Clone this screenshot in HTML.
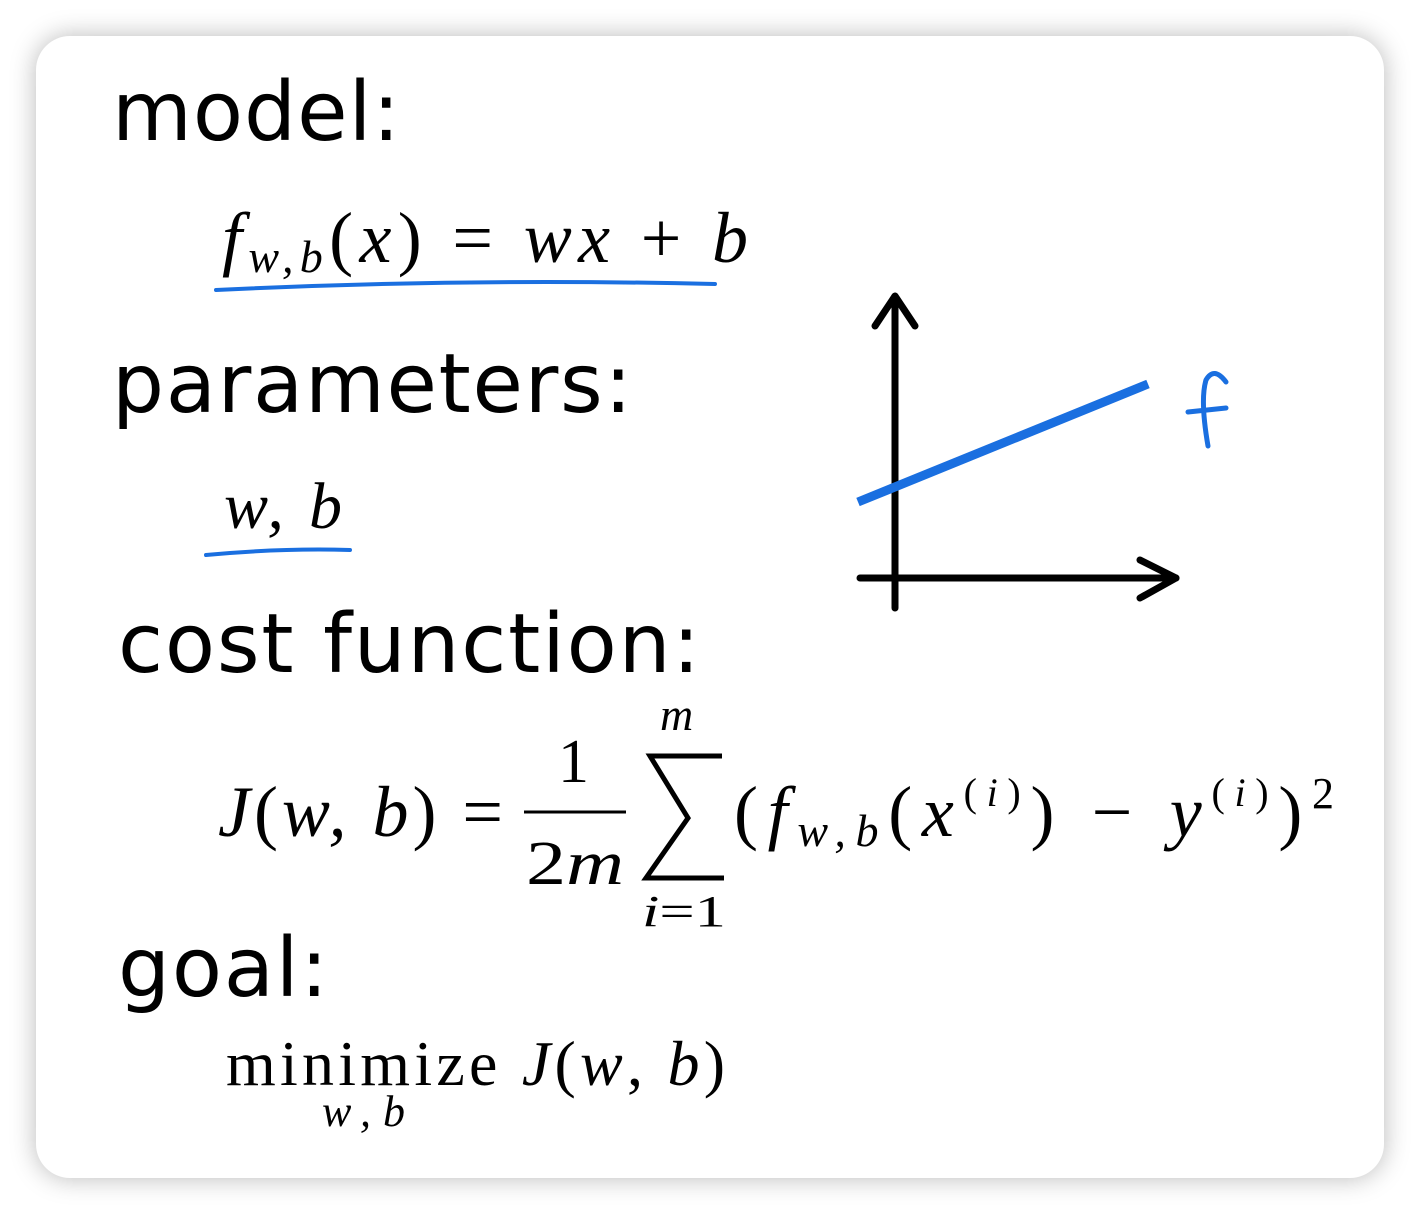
<!DOCTYPE html>
<html><head><style>
html,body{margin:0;padding:0;background:#fff;width:1420px;height:1214px;overflow:hidden}
.card{position:absolute;left:36px;top:36px;width:1348px;height:1142px;border-radius:34px;background:#fff;box-shadow:0 0 26px rgba(0,0,0,0.28)}
svg{position:absolute;left:0;top:0}
.h{font-family:"DejaVu Sans",sans-serif;font-size:82px;fill:#000}
.m{font-family:"Liberation Serif",serif;font-style:italic;fill:#000}
.r{font-family:"Liberation Serif",serif;fill:#000}
</style></head><body>
<div class="card"></div>
<svg width="1420" height="1214" viewBox="0 0 1420 1214">
<text class="h" x="112" y="140" textLength="288">model:</text>
<text class="m" x="222" y="262" font-size="72" textLength="526" lengthAdjust="spacing">f<tspan font-size="46" dy="10">w,b</tspan><tspan class="r" dy="-10" font-style="normal">(</tspan>x<tspan font-style="normal">) = </tspan>wx<tspan font-style="normal"> + </tspan>b</text>
<path d="M216 290 Q460 278 715 284" stroke="#1a6fe0" stroke-width="4" fill="none" stroke-linecap="round"/>
<text class="h" x="112" y="412" textLength="520">parameters:</text>
<text class="m" x="224" y="528" font-size="66" textLength="118" lengthAdjust="spacing">w, b</text>
<path d="M206 555 Q280 548 350 550" stroke="#1a6fe0" stroke-width="4" fill="none" stroke-linecap="round"/>
<text class="h" x="118" y="672" textLength="582">cost function:</text>
<text class="m" x="218" y="836" font-size="72" textLength="285" lengthAdjust="spacing">J<tspan font-style="normal">(</tspan>w, b<tspan font-style="normal">) =</tspan></text>
<text class="r" x="558" y="782" font-size="62">1</text>
<line x1="524" y1="812" x2="626" y2="812" stroke="#000" stroke-width="3"/>
<text class="r" x="526" y="884" font-size="62" textLength="98" lengthAdjust="spacingAndGlyphs">2<tspan font-style="italic">m</tspan></text>
<text class="m" x="660" y="730" font-size="46" textLength="46">m</text>
<path d="M722 756 L650 756 L688 818 L646 878 L724 878" stroke="#000" stroke-width="5" fill="none" stroke-linejoin="miter"/>
<text class="m" x="642" y="926" font-size="44" textLength="84" lengthAdjust="spacingAndGlyphs">i<tspan font-style="normal">=1</tspan></text>
<text class="m" x="734" y="836" font-size="72" textLength="600" lengthAdjust="spacing"><tspan font-style="normal">(</tspan>f<tspan font-size="46" dy="10">w,b</tspan><tspan font-style="normal" dy="-10">(</tspan>x<tspan font-size="40" font-style="normal" dy="-30">(</tspan><tspan font-size="40" dy="0">i</tspan><tspan font-size="40" font-style="normal">)</tspan><tspan font-style="normal" dy="30">)  −  </tspan>y<tspan font-size="40" font-style="normal" dy="-30">(</tspan><tspan font-size="40">i</tspan><tspan font-size="40" font-style="normal">)</tspan><tspan font-style="normal" dy="30">)</tspan><tspan font-size="44" font-style="normal" dy="-28">2</tspan></text>
<text class="h" x="118" y="996" textLength="210">goal:</text>
<text class="r" x="226" y="1085" font-size="64" textLength="499" lengthAdjust="spacing">minimize<tspan font-style="italic"> J</tspan>(<tspan font-style="italic">w</tspan>, <tspan font-style="italic">b</tspan>)</text>
<text class="m" x="322" y="1126" font-size="44" textLength="83" lengthAdjust="spacing">w,b</text>
<g stroke="#000" stroke-width="7" fill="none" stroke-linecap="round" stroke-linejoin="round">
<line x1="895" y1="608" x2="895" y2="298"/>
<polyline points="875,326 895,296 915,326"/>
<line x1="860" y1="578" x2="1176" y2="578"/>
<polyline points="1140,560 1176,578 1140,598"/>
</g>
<line x1="858" y1="502" x2="1148" y2="384" stroke="#1a6fe0" stroke-width="9"/>
<path d="M1226 382 Q1214 366 1206 380 Q1200 400 1208 446 M1188 412 L1226 408" stroke="#1a6fe0" stroke-width="5" fill="none" stroke-linecap="round"/>
</svg>
</body></html>
